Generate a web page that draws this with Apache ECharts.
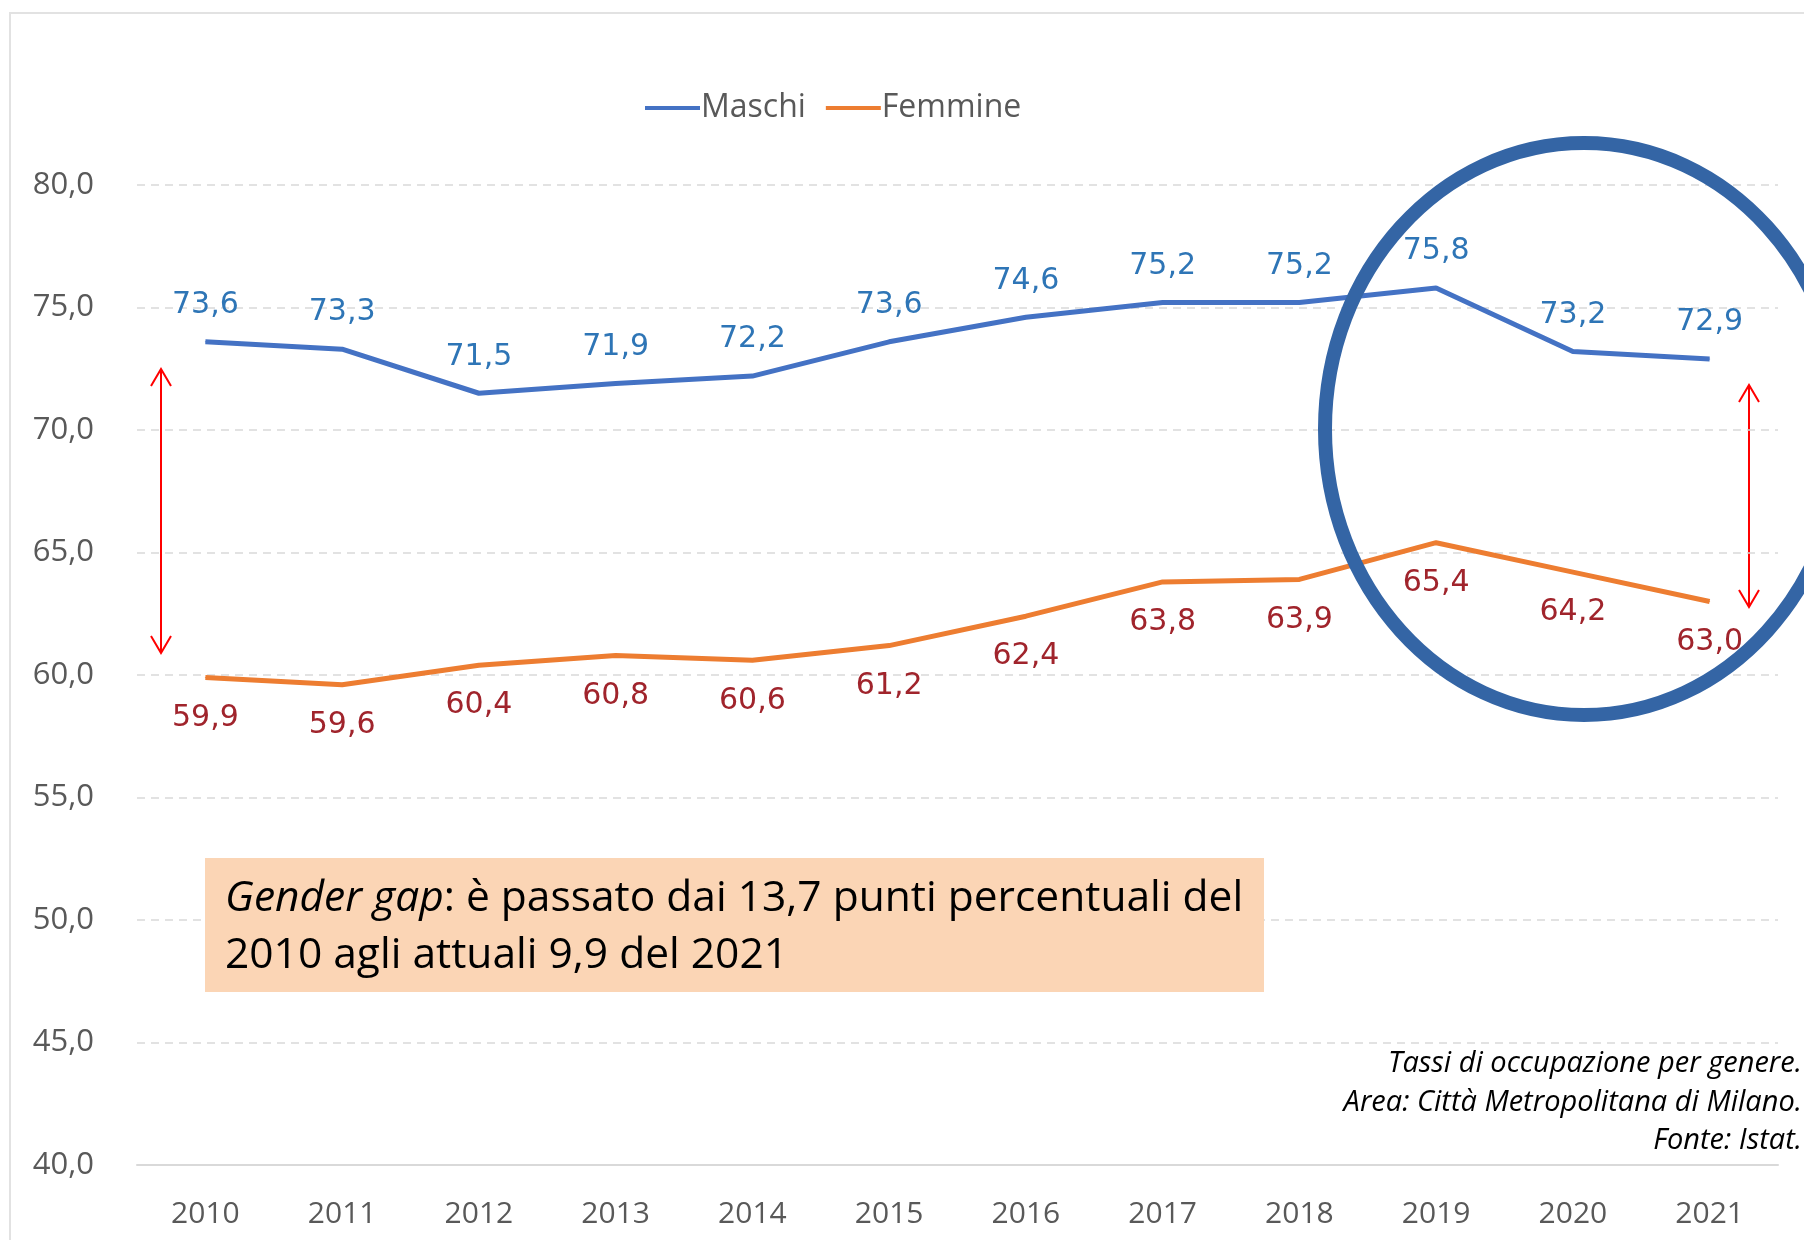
<!DOCTYPE html>
<html>
<head>
<meta charset="utf-8">
<script src="https://cdn.jsdelivr.net/npm/echarts@6/dist/echarts.min.js"></script>
<style>
html,body{margin:0;padding:0;background:#fff;}
#chart{width:1804px;height:1240px;}
</style>
</head>
<body>
<div id="chart"></div>
<script>
var years = ['2010','2011','2012','2013','2014','2015','2016','2017','2018','2019','2020','2021'];
var maschi = [73.6, 73.3, 71.5, 71.9, 72.2, 73.6, 74.6, 75.2, 75.2, 75.8, 73.2, 72.9];
var femmine = [59.9, 59.6, 60.4, 60.8, 60.6, 61.2, 62.4, 63.8, 63.9, 65.4, 64.2, 63.0];
var seriesNames = ['Maschi', 'Femmine'];

function fmt(v){ return v.toFixed(1).replace('.', ','); }

var chart = echarts.init(document.getElementById('chart'));
var arrowColor = '#ff0000';
function arrow(x, y1, y2){
  return [
    {type:'line', shape:{x1:x, y1:y1, x2:x, y2:y2}, style:{stroke:arrowColor, lineWidth:2}},
    {type:'polyline', shape:{points:[[x-10,y1+17],[x,y1],[x+10,y1+17]]}, style:{stroke:arrowColor, lineWidth:2, fill:null}},
    {type:'polyline', shape:{points:[[x-10,y2-17],[x,y2],[x+10,y2-17]]}, style:{stroke:arrowColor, lineWidth:2, fill:null}}
  ];
}
var capFont = '42.5px "Open Sans"';
var noteFont = 'italic 29px "Open Sans"';
var graphics = [
  {type:'rect', shape:{x:10, y:13, width:1830, height:1260}, style:{fill:null, stroke:'#e2e2e2', lineWidth:2}, z:-1},
  {type:'rect', shape:{x:205, y:858, width:1059, height:134}, style:{fill:'#fbd5b5'}, z:5},
  {type:'text', x:225, y:899, z:6, style:{
    text:'{i|Gender gap}: è passato dai 13,7 punti percentuali del', verticalAlign:'middle',
    font:capFont, fill:'#000',
    rich:{i:{fontStyle:'italic', fontFamily:'Open Sans', fontSize:42.5, fill:'#000'}}
  }},
  {type:'text', x:225, y:956, z:6, style:{
    text:'2010 agli attuali 9,9 del 2021', verticalAlign:'middle',
    font:capFont, fill:'#000'
  }},
  {type:'text', x:1802, y:1064, z:6, style:{text:'Tassi di occupazione per genere.', align:'right', verticalAlign:'middle', font:noteFont, fill:'#000'}},
  {type:'text', x:1802, y:1103, z:6, style:{text:'Area: Città Metropolitana di Milano.', align:'right', verticalAlign:'middle', font:noteFont, fill:'#000'}},
  {type:'text', x:1802, y:1141, z:6, style:{text:'Fonte: Istat.', align:'right', verticalAlign:'middle', font:noteFont, fill:'#000'}},
  {type:'ellipse', shape:{cx:1584, cy:429, rx:259, ry:286}, style:{fill:null, stroke:'#3465a5', lineWidth:14}, z:10}
].concat(arrow(161, 369, 653)).concat(arrow(1749, 385, 607));

chart.setOption({
  animation:false,
  backgroundColor:'#fff',
  legend:{
    data:seriesNames, left:640, top:87, icon:'rect', itemWidth:55, itemHeight:4, itemGap:20,
    textStyle:{fontFamily:'Open Sans', fontSize:32, color:'#595959', padding:[0,0,0,-4]}
  },
  grid:{left:137, right:26, top:185, bottom:75, containLabel:false},
  xAxis:{
    type:'category', data:years, boundaryGap:true,
    axisLine:{lineStyle:{color:'#d9d9d9', width:2}},
    axisTick:{show:false},
    axisLabel:{fontFamily:'Open Sans', fontSize:30, color:'#595959', margin:34}
  },
  yAxis:{
    type:'value', min:40, max:80, interval:5,
    axisLine:{show:false}, axisTick:{show:false},
    axisLabel:{fontFamily:'Open Sans', fontSize:31, color:'#595959', margin:43, formatter:function(v){return fmt(v);}},
    splitLine:{lineStyle:{color:'#d9d9d9', type:[8,6], width:1.5}}
  },
  series:[
    {name:'Maschi', type:'line', data:maschi, symbol:'circle', symbolSize:1, showSymbol:true, color:'#4472c4',
     itemStyle:{color:'#4472c4'},
     lineStyle:{width:5, color:'#4472c4'},
     label:{show:true, position:'top', distance:21, fontFamily:'DejaVu Sans', fontSize:30, color:'#2e75b6', formatter:function(p){return fmt(p.value);}}},
    {name:'Femmine', type:'line', data:femmine, symbol:'circle', symbolSize:1, showSymbol:true, color:'#ed7d31',
     itemStyle:{color:'#ed7d31'},
     lineStyle:{width:5, color:'#ed7d31'},
     label:{show:true, position:'bottom', distance:25, fontFamily:'DejaVu Sans', fontSize:30, color:'#a0242c', formatter:function(p){return fmt(p.value);}}}
  ],
  graphic:graphics
});
</script>
</body>
</html>
